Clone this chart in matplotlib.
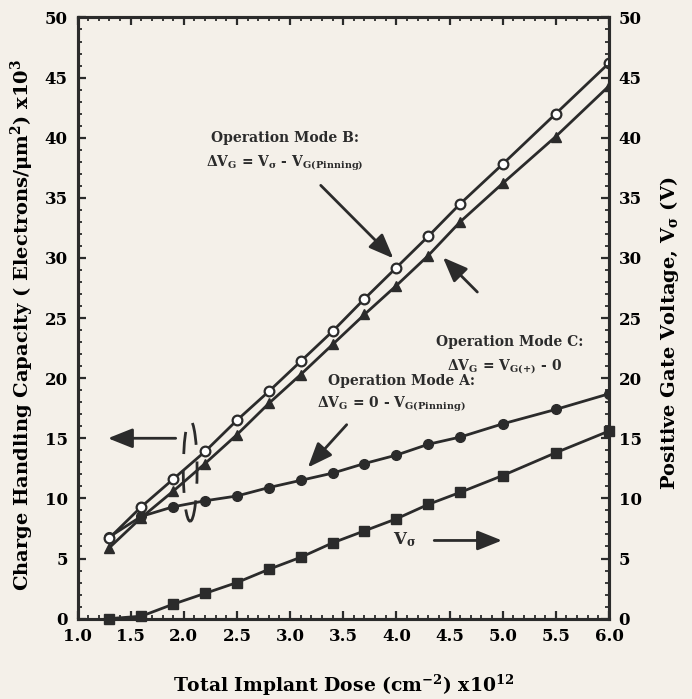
import numpy as np
import matplotlib
matplotlib.use('Agg')
import matplotlib.pyplot as plt
from matplotlib.patches import Ellipse
from matplotlib.ticker import MultipleLocator

plt.rcParams['font.family'] = ['DejaVu Serif']
plt.rcParams['font.weight'] = 'bold'
plt.rcParams['axes.labelweight'] = 'bold'
plt.rcParams['mathtext.fontset'] = 'custom'
plt.rcParams['mathtext.rm'] = 'DejaVu Serif:bold'
plt.rcParams['mathtext.it'] = 'DejaVu Serif:bold'
plt.rcParams['mathtext.bf'] = 'DejaVu Serif:bold'
plt.rcParams['mathtext.default'] = 'rm'

# dose (x10^12 cm^-2)
dose = [1.3, 1.6, 1.9, 2.2, 2.5, 2.8, 3.1, 3.4, 3.7, 4.0, 4.3, 4.6, 5.0, 5.5, 6.0]
# charge handling capacity (x10^3 e/um^2)
mode_b = [6.7, 9.3, 11.6, 13.9, 16.5, 18.9, 21.4, 23.9, 26.6, 29.2, 31.8, 34.5, 37.8, 42.0, 46.2]
mode_c = [5.9, 8.4, 10.6, 12.9, 15.3, 17.9, 20.3, 22.8, 25.3, 27.7, 30.2, 33.0, 36.2, 40.1, 44.3]
mode_a = [6.8, 8.5, 9.3, 9.8, 10.2, 10.9, 11.5, 12.1, 12.9, 13.6, 14.5, 15.1, 16.2, 17.4, 18.7]
# positive gate voltage V_sigma (V)
v_sigma = [0.0, 0.2, 1.2, 2.1, 3.0, 4.1, 5.1, 6.3, 7.3, 8.3, 9.5, 10.5, 11.9, 13.8, 15.6]

ink = '#2b2b2b'
paper = '#f4f0e9'

fig = plt.figure(figsize=(6.92, 6.99), dpi=100, facecolor=paper)
ax = fig.add_axes([0.112, 0.115, 0.768, 0.860])
ax.set_facecolor(paper)
ax2 = ax.twinx()

ax.plot(dose, mode_b, '-o', color=ink, lw=2, ms=7, mfc='white', mec=ink, mew=1.6, zorder=4)
ax.plot(dose, mode_c, '-^', color=ink, lw=2, ms=7, mfc=ink, mec=ink, zorder=3)
ax.plot(dose, mode_a, '-o', color=ink, lw=2, ms=7, mfc=ink, mec=ink, zorder=3)
ax2.plot(dose, v_sigma, '-s', color=ink, lw=2, ms=7, mfc=ink, mec=ink, clip_on=False)

for a in (ax, ax2):
    a.set_xlim(1.0, 6.0)
    a.set_ylim(0, 50)
    a.yaxis.set_major_locator(MultipleLocator(5))
    a.yaxis.set_minor_locator(MultipleLocator(1))
    for s in a.spines.values():
        s.set_linewidth(2.2)
        s.set_color(ink)

ax.xaxis.set_major_locator(MultipleLocator(0.5))
ax.xaxis.set_minor_locator(MultipleLocator(0.1))
ax.xaxis.set_major_formatter(matplotlib.ticker.FormatStrFormatter('%.1f'))
ax.tick_params(axis='both', which='major', direction='in', length=6, width=1.6,
               color=ink, labelsize=12, top=True, pad=7)
ax.tick_params(axis='both', which='minor', direction='in', length=3, width=1.3,
               color=ink, top=True)
ax.tick_params(axis='y', right=False, which='both')
ax2.tick_params(axis='y', which='major', direction='in', length=6, width=1.6,
                color=ink, labelsize=12, pad=7)
ax2.tick_params(axis='y', which='minor', direction='in', length=3, width=1.3, color=ink)

ax.set_xlabel(r'Total Implant Dose (cm$^{-2}$) x10$^{12}$', fontsize=13.5, labelpad=20)
ax.set_ylabel(r'Charge Handling Capacity ( Electrons/$\mu$m$^2$) x10$^3$', fontsize=14)
ax.yaxis.set_label_coords(-0.079, 0.488)
ax2.set_ylabel(r'Positive Gate Voltage, V$_\sigma$ (V)', fontsize=14)
ax2.yaxis.set_label_coords(1.092, 0.475)

txt = dict(ha='center', va='center', fontsize=10, color=ink)
arr = dict(arrowstyle='-|>,head_length=1.5,head_width=0.6', color=ink, lw=2)

ax.text(2.95, 40.0, 'Operation Mode B:', **txt)
ax.text(2.95, 37.9, r'$\Delta$V$_G$ = V$_\sigma$ - V$_{G(Pinning)}$', **txt)
ax.annotate('', xy=(3.99, 29.8), xytext=(3.27, 36.2), arrowprops=arr)

ax.text(5.07, 23.0, 'Operation Mode C:', **txt)
ax.text(5.02, 20.9, r'$\Delta$V$_G$ = V$_{G(+)}$ - 0', **txt)
ax.annotate('', xy=(4.42, 30.2), xytext=(4.78, 27.0), arrowprops=arr)

ax.text(4.05, 19.8, 'Operation Mode A:', **txt)
ax.text(3.95, 17.8, r'$\Delta$V$_G$ = 0 - V$_{G(Pinning)}$', **txt)
ax.annotate('', xy=(3.15, 12.4), xytext=(3.55, 16.3), arrowprops=arr)

ax.annotate('', xy=(1.26, 15.0), xytext=(1.95, 15.0), arrowprops=arr)
ax.add_patch(Ellipse((2.06, 12.3), 0.13, 8.4, fill=False, ec=ink, lw=2,
                     ls=(0, (8, 6)), zorder=5))

ax.text(4.08, 6.6, r'V$_\sigma$', fontsize=12, ha='center', va='center', color=ink)
ax.annotate('', xy=(5.02, 6.5), xytext=(4.33, 6.5), arrowprops=arr)

fig.savefig('out.png', dpi=100, facecolor=paper)
